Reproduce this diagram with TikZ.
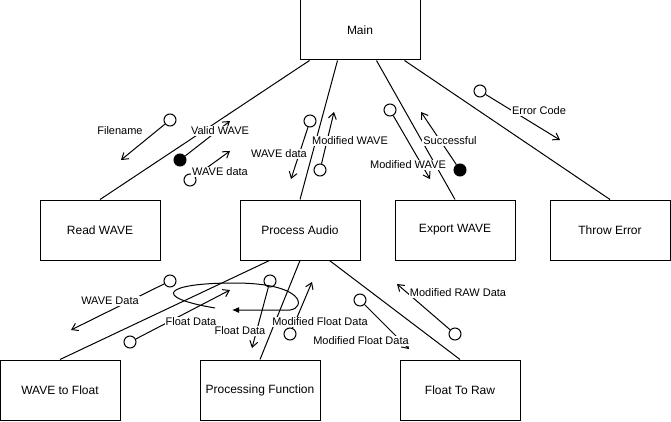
\documentclass[tikz,border=0pt]{standalone}
\usepackage{fontspec}
\setmainfont{Liberation Sans}
\usetikzlibrary{arrows.meta,calc}
\begin{document}
\begin{tikzpicture}[x=1pt,y=-1pt,line width=1pt,
  box/.style={draw,rectangle,minimum width=120pt,minimum height=60pt,inner sep=0pt,font=\fontsize{12}{14}\selectfont},
  hole/.style={draw,circle,minimum size=12pt,inner sep=0pt,fill=white},
  dot/.style={draw,circle,minimum size=12pt,inner sep=0pt,fill=black},
  lbl/.style={fill=white,inner sep=1pt,font=\fontsize{11}{13}\selectfont},
  couple/.style={-{Straight Barb[length=6pt,width=8pt]}}]
\useasboundingbox (0,0) rectangle (671,422);

% modules
\node[box] (main) at (360,30) {Main};
\node[box] (rw) at (100,230) {Read WAVE};
\node[box] (pa) at (300,230) {Process Audio};
\node[box] (ew) at (455,230) {Export WAVE};
\node[box] (te) at (610,230) {Throw Error};
\node[box] (wf) at (60,390) {WAVE to Float};
\node[box] (pf) at (260,390) {Processing Function};
\node[box] (fr) at (460,390) {Float To Raw};

% calls
\draw ($(main.south west)+(10,0)$) -- (rw.north);
\draw ($(main.south west)+(38,0)$) -- (pa.north);
\draw ($(main.south west)+(77,0)$) -- (ew.north);
\draw ($(main.south west)+(105,0)$) -- (te.north);
\draw ($(pa.south west)+(30,0)$) -- (wf.north);
\draw (pa.south) -- (pf.north);
\draw ($(pa.south west)+(90,0)$) -- (fr.north);

% data couples
\node[hole] (c1) at (170,120) {};   \coordinate (t1) at (121,160);
\node[dot]  (c2) at (180,160) {};   \coordinate (t2) at (230,121);
\node[hole] (c3) at (190,180) {};   \coordinate (t3) at (230,151);
\node[hole] (c4) at (310,121) {};   \coordinate (t4) at (291,179);
\node[hole] (c5) at (320,170) {};   \coordinate (t5) at (334,112);
\node[hole] (c6) at (390,110) {};   \coordinate (t6) at (430,179);
\node[dot]  (c7) at (460,170) {};   \coordinate (t7) at (421,112);
\node[hole] (c8) at (480,91) {};    \coordinate (t8) at (560,140);
\node[hole] (c9) at (170,281) {};   \coordinate (t9) at (71,330);
\node[hole] (c10) at (130,342) {};  \coordinate (t10) at (230,290);
\node[hole] (c11) at (270,281) {};  \coordinate (t11) at (252,348);
\node[hole] (c12) at (290,334) {};  \coordinate (t12) at (312,282);
\node[hole] (c13) at (360,300) {};  \coordinate (t13) at (409,349);
\node[hole] (c14) at (455,334) {};  \coordinate (t14) at (397,284);

\foreach \i in {1,...,14} { \draw[couple] (c\i) -- (t\i); }

% iteration loop
\draw[-{Latex[length=7pt,width=6pt]}] (215,308) .. controls (150,297) and (165,283) .. (234,283)
  .. controls (305,283) and (306,308) .. (290,310) -- (232,310);

% labels
\node[lbl] (l1) at (120,131) {Filename};
\node[lbl] (l2) at (220,131) {Valid WAVE};
\node[lbl] (l3) at (220,172) {WAVE data};
\node[lbl] (l4) at (279,154) {WAVE data};
\node[lbl] (l5) at (350,141) {Modified WAVE};
\node[lbl] (l6) at (408,165) {Modified WAVE};
\node[lbl] (l7) at (450,141) {Successful};
\node[lbl] (l8) at (539,111) {Error Code};
\node[lbl] (l9) at (110,301) {WAVE Data};
\node[lbl] (l10) at (191,322) {Float Data};
\node[lbl] (l11) at (240,331) {Float Data};
\node[lbl] (l12) at (320,322) {Modified Float Data};
\node[lbl] (l13) at (361,341) {Modified Float Data};
\node[lbl] (l14) at (458,293) {Modified RAW Data};
\end{tikzpicture}
\end{document}
